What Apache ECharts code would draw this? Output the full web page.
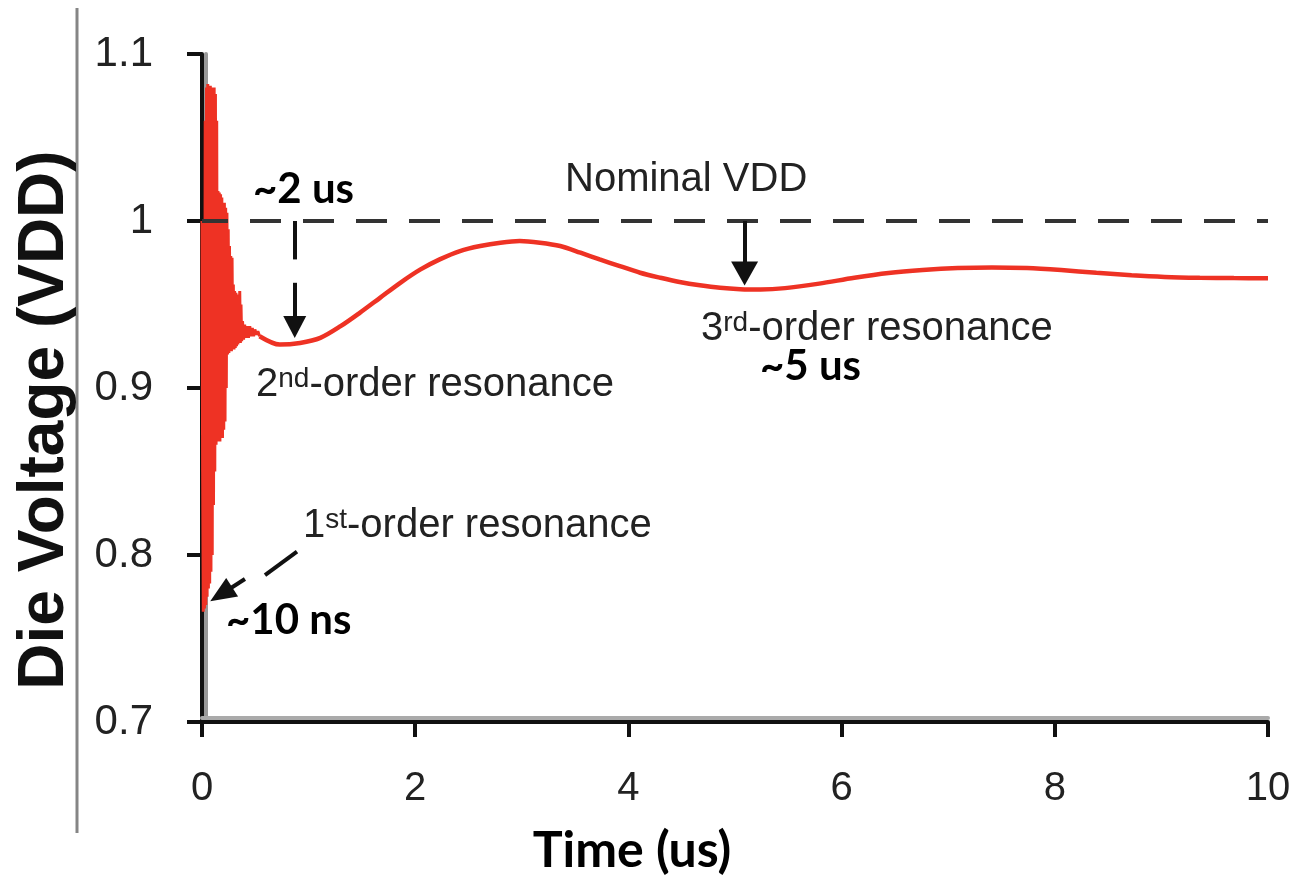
<!DOCTYPE html>
<html>
<head>
<meta charset="utf-8">
<script src="https://cdn.jsdelivr.net/npm/echarts@6/dist/echarts.min.js"></script>
<style>
  html, body { margin: 0; padding: 0; background: #ffffff; }
  #chart { width: 1297px; height: 877px; }
</style>
</head>
<body>
<div id="chart"></div>
<script>
// Axis ticks
const xTicks = [0, 2, 4, 6, 8, 10];
const yTicks = [0.7, 0.8, 0.9, 1.0, 1.1];

// Fast ringing right after the load step (time in us, die voltage in VDD)
const ringTime = [
  0.000, 0.006, 0.012, 0.018, 0.024, 0.030, 0.036, 0.042, 0.048, 0.054,
  0.060, 0.066, 0.072, 0.078, 0.084, 0.090, 0.096, 0.102, 0.108, 0.114,
  0.120, 0.126, 0.132, 0.138, 0.144, 0.150, 0.156, 0.162, 0.168, 0.174,
  0.180, 0.186, 0.192, 0.198, 0.204, 0.210, 0.216, 0.222, 0.228, 0.234,
  0.240, 0.246, 0.252, 0.258, 0.264, 0.270, 0.276, 0.282, 0.288, 0.294,
  0.300, 0.306, 0.312, 0.318, 0.324, 0.330, 0.336, 0.342, 0.348, 0.354,
  0.360, 0.366, 0.372, 0.380, 0.390, 0.400, 0.412, 0.424, 0.436, 0.448,
  0.460, 0.472, 0.484, 0.496, 0.510, 0.524, 0.540
];
const ringVolt = [
  1.000, 0.850, 0.766, 1.000, 0.768, 1.060, 0.770, 1.080, 0.775, 1.082,
  0.780, 1.080, 0.783, 1.081, 0.790, 1.080, 0.800, 1.078, 0.830, 1.080,
  0.850, 1.076, 0.866, 1.060, 0.868, 1.018, 0.870, 1.017, 0.868, 1.016,
  0.872, 1.014, 0.870, 1.010, 0.875, 1.011, 0.880, 1.008, 0.900, 1.005,
  0.920, 0.995, 0.921, 0.985, 0.922, 0.979, 0.922, 0.978, 0.923, 0.962,
  0.923, 0.958, 0.924, 0.957, 0.925, 0.956, 0.926, 0.955, 0.927, 0.958,
  0.927, 0.950, 0.928, 0.940, 0.929, 0.938, 0.930, 0.937, 0.930, 0.937,
  0.931, 0.936, 0.931, 0.935, 0.932, 0.934, 0.931
];

// Slow 2nd / 3rd order resonance settling
const settleTime = [
  0.54, 0.73, 0.92, 1.11, 1.30, 1.48, 1.67, 1.86, 2.05, 2.23,
  2.42, 2.61, 2.80, 2.98, 3.17, 3.36, 3.55, 3.73, 3.92, 4.11,
  4.30, 4.48, 4.67, 4.86, 5.05, 5.24, 5.47, 5.79, 6.12, 6.44,
  6.76, 7.09, 7.41, 7.74, 8.06, 8.39, 8.72, 9.03, 9.36, 9.68, 10.0
];
const settleVolt = [
  0.931, 0.926, 0.927, 0.930, 0.937, 0.945, 0.954, 0.963, 0.971, 0.977,
  0.982, 0.985, 0.987, 0.988, 0.987, 0.985, 0.981, 0.977, 0.973, 0.969,
  0.966, 0.9635, 0.9615, 0.9600, 0.9592, 0.9590, 0.9598, 0.9625, 0.9660, 0.9688,
  0.9706, 0.9718, 0.9722, 0.9718, 0.9706, 0.9690, 0.9675, 0.9665, 0.9660, 0.9658, 0.9657
];

// Nominal supply level and annotation arrows (data units)
const nominalVdd = 1.0;
const secondOrderT = 0.87;   // ~2 us marker
const thirdOrderT = 5.09;    // ~5 us marker

const RED = '#ee3224';
const INK = '#111111';
const SANS = '"Liberation Sans", Arial, sans-serif';
const NOTE = 'Lato, "Open Sans", sans-serif';

const zip = (a, b) => a.map((v, i) => [v, b[i]]);

const chart = echarts.init(document.getElementById('chart'), null, { renderer: 'canvas' });

const arrowLine = { color: INK, width: 4, type: 'solid' };

const option = {
  animation: false,
  backgroundColor: '#ffffff',
  grid: { left: 202, right: 29, top: 54, bottom: 155, containLabel: false },
  xAxis: {
    type: 'value',
    min: xTicks[0],
    max: xTicks[xTicks.length - 1],
    interval: xTicks[1] - xTicks[0],
    axisLine: { show: true, onZero: false,
      lineStyle: { color: INK, width: 4, shadowColor: '#aaaaaa', shadowOffsetY: -4 } },
    axisTick: { show: true, inside: false, length: 15, lineStyle: { color: INK, width: 4 } },
    axisLabel: { margin: 47, fontSize: 40, fontFamily: SANS, color: '#222222' },
    splitLine: { show: false }
  },
  yAxis: {
    type: 'value',
    min: yTicks[0],
    max: yTicks[yTicks.length - 1],
    interval: 0.1,
    axisLine: { show: true, onZero: false,
      lineStyle: { color: INK, width: 4, shadowColor: '#999999', shadowOffsetX: 4 } },
    axisTick: { show: true, inside: false, length: 15, lineStyle: { color: INK, width: 4 } },
    axisLabel: { margin: 49, fontSize: 42, fontFamily: SANS, color: '#222222',
      padding: [8, 0, 0, 0],
      formatter: v => String(Math.round(v * 10) / 10) },
    splitLine: { show: false }
  },
  series: [
    {
      name: 'ringing',
      type: 'line',
      data: zip(ringTime, ringVolt),
      symbol: 'none',
      smooth: false,
      lineStyle: { color: RED, width: 3 },
      z: 2
    },
    {
      name: 'settling',
      type: 'line',
      data: zip(settleTime, settleVolt),
      symbol: 'none',
      smooth: 0.3,
      lineStyle: { color: RED, width: 4.5 },
      z: 2,
      markLine: {
        silent: true,
        animation: false,
        symbol: ['none', 'none'],
        label: { show: false },
        data: [
          // nominal VDD reference
          [
            { coord: [xTicks[0], nominalVdd], lineStyle: { color: '#333333', width: 4, type: [31, 22], dashOffset: 5 } },
            { coord: [xTicks[xTicks.length - 1], nominalVdd] }
          ],
          // ~2 us: stub below nominal
          [
            { coord: [secondOrderT, nominalVdd], lineStyle: arrowLine },
            { coord: [secondOrderT, 0.977] }
          ],
          // ~2 us: arrow down to the 2nd-order dip
          [
            { coord: [secondOrderT, 0.963], lineStyle: arrowLine },
            { coord: [secondOrderT, 0.9365], symbol: 'triangle', symbolSize: [23, 22] }
          ],
          // ~5 us: arrow down to the 3rd-order dip
          [
            { coord: [thirdOrderT, nominalVdd], lineStyle: arrowLine },
            { coord: [thirdOrderT, 0.9685], symbol: 'triangle', symbolSize: [27, 24] }
          ],
          // ~10 ns: leader toward the 1st-order dip
          [
            { coord: [0.891, 0.802], lineStyle: arrowLine },
            { coord: [0.591, 0.788] }
          ],
          [
            { coord: [0.403, 0.7856], lineStyle: arrowLine },
            { coord: [0.18, 0.7765], symbol: 'triangle', symbolSize: [22, 26] }
          ]
        ]
      }
    }
  ],
  graphic: [
    { type: 'line', silent: true, shape: { x1: 77, y1: 8, x2: 77, y2: 833 },
      style: { stroke: '#858585', lineWidth: 3 } },
    { type: 'text', silent: true, x: 45, y: 420, rotation: Math.PI / 2,
      style: { text: 'Die Voltage (VDD)', fontSize: 64, fontWeight: 'bold', fontFamily: SANS,
        fill: '#111111', align: 'center', verticalAlign: 'middle' } },
    { type: 'text', silent: true, x: 632, y: 851,
      style: { text: 'Time (us)', fontSize: 50, fontWeight: 'bold', fontFamily: NOTE,
        fill: '#000000', align: 'center', verticalAlign: 'middle' } },
    { type: 'text', silent: true, x: 565, y: 180,
      style: { text: 'Nominal VDD', fontSize: 40, fontFamily: SANS, fill: '#222222',
        align: 'left', verticalAlign: 'middle' } },
    { type: 'text', silent: true, x: 256, y: 385,
      style: { text: '2{sup|nd}-order resonance', fontSize: 40, fontFamily: SANS, fill: '#222222',
        align: 'left', verticalAlign: 'middle',
        rich: { sup: { fontSize: 28, fontFamily: SANS, fill: '#222222', verticalAlign: 'top' } } } },
    { type: 'text', silent: true, x: 701, y: 329,
      style: { text: '3{sup|rd}-order resonance', fontSize: 40, fontFamily: SANS, fill: '#222222',
        align: 'left', verticalAlign: 'middle',
        rich: { sup: { fontSize: 28, fontFamily: SANS, fill: '#222222', verticalAlign: 'top' } } } },
    { type: 'text', silent: true, x: 303, y: 526,
      style: { text: '1{sup|st}-order resonance', fontSize: 40, fontFamily: SANS, fill: '#222222',
        align: 'left', verticalAlign: 'middle',
        rich: { sup: { fontSize: 28, fontFamily: SANS, fill: '#222222', verticalAlign: 'top' } } } },
    { type: 'text', silent: true, x: 253, y: 189,
      style: { text: '~2 us', fontSize: 42, fontWeight: 'bold', fontFamily: NOTE, fill: '#000000',
        align: 'left', verticalAlign: 'middle' } },
    { type: 'text', silent: true, x: 760, y: 366,
      style: { text: '~5 us', fontSize: 42, fontWeight: 'bold', fontFamily: NOTE, fill: '#000000',
        align: 'left', verticalAlign: 'middle' } },
    { type: 'text', silent: true, x: 226, y: 620,
      style: { text: '~10 ns', fontSize: 42, fontWeight: 'bold', fontFamily: NOTE, fill: '#000000',
        align: 'left', verticalAlign: 'middle' } }
  ]
};

chart.setOption(option);
</script>
</body>
</html>
